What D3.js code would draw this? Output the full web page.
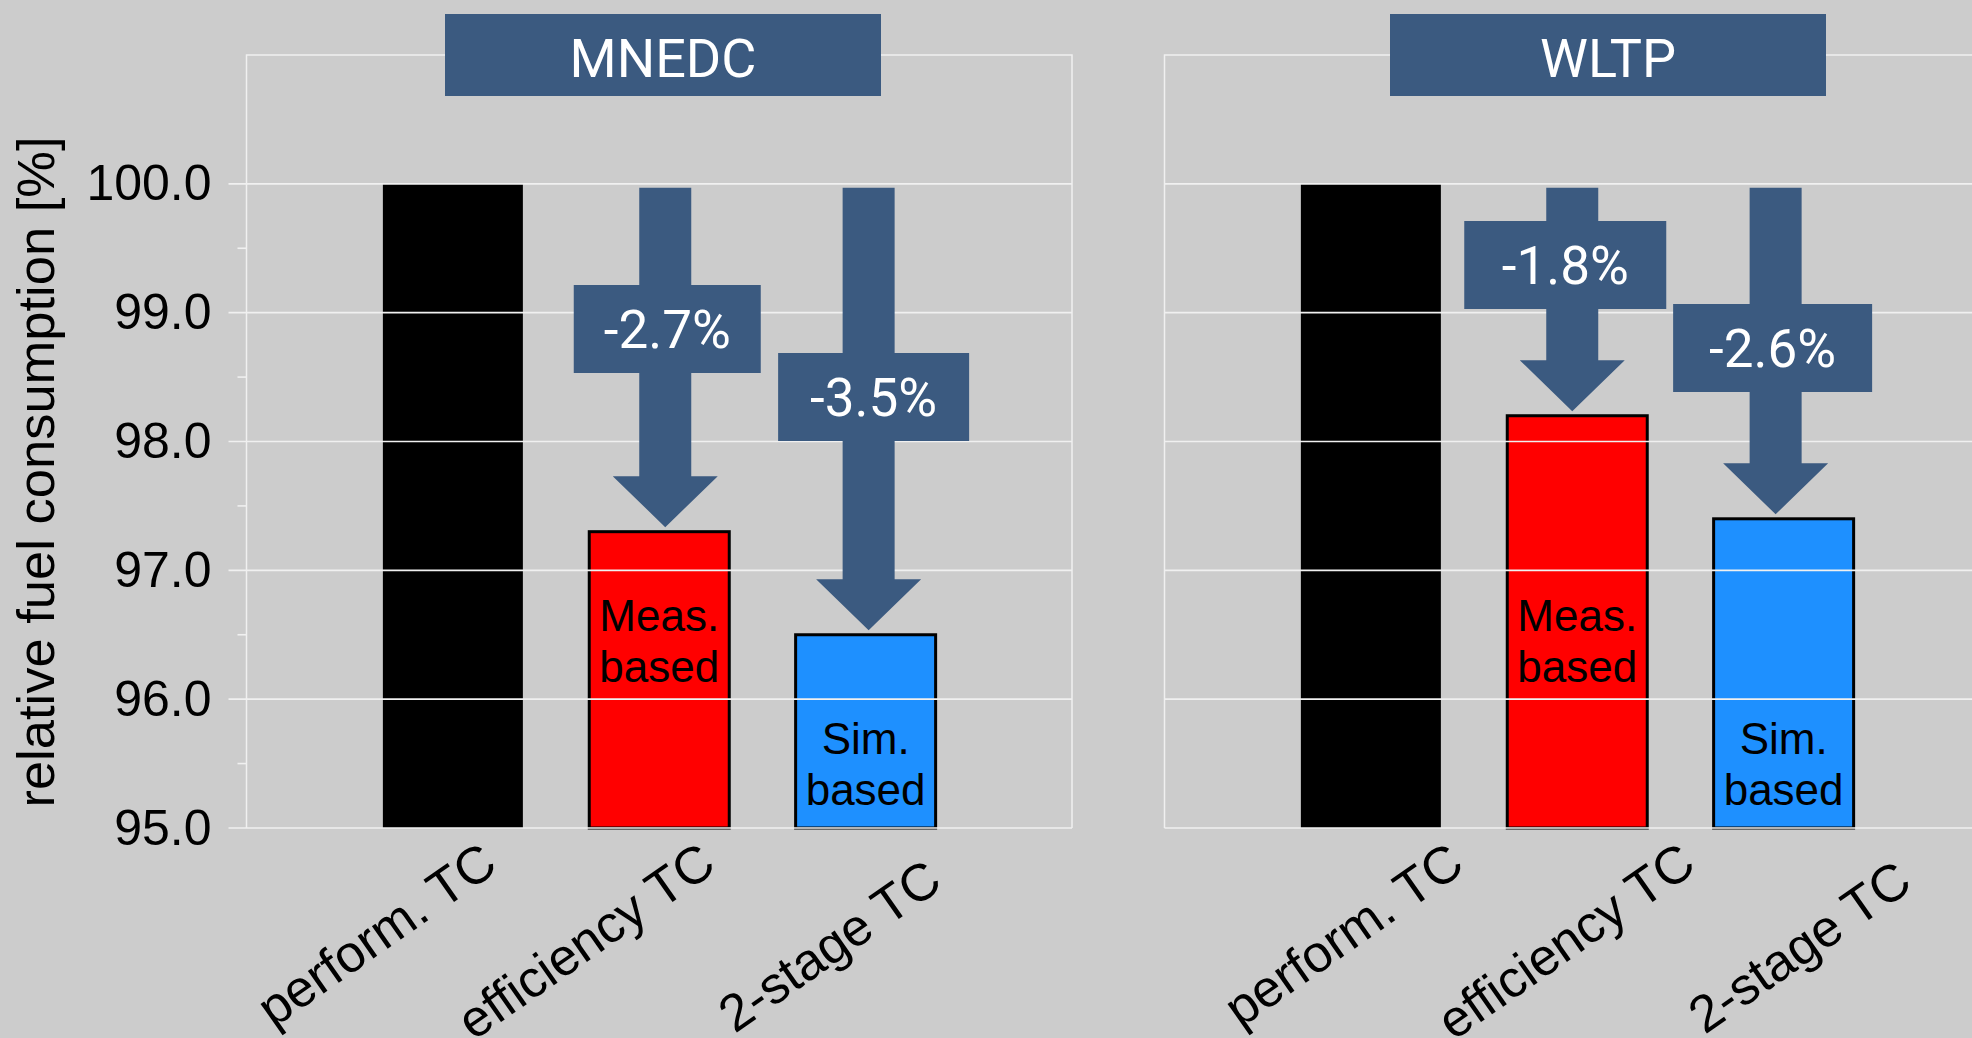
<!DOCTYPE html>
<html>
<head>
<meta charset="utf-8">
<script src="https://cdn.jsdelivr.net/npm/d3@7"></script>
<style>
  html, body { margin: 0; padding: 0; background: #cccccc; }
  svg { display: block; }
</style>
</head>
<body>
<svg id="chart" width="1972" height="1038"></svg>
<script>
// ---- data ----
const categories = ["perform. TC", "efficiency TC", "2-stage TC"];
const cycles = ["MNEDC", "WLTP"];
const mnedcValues = [100.0, 97.3, 96.5];
const wltpValues = [100.0, 98.2, 97.4];
const barNotes = [[], ["Meas.", "based"], ["Sim.", "based"]];
const yTicks = [95, 96, 97, 98, 99, 100];
const yMinorTicks = [95.5, 96.5, 97.5, 98.5, 99.5];
const yDomain = [95, 101];
const referenceValue = 100; // perform. TC is the 100 % reference

// ---- layout & style ----
const W = 1972, H = 1038;
const plotTop = 55, plotBottom = 828, plotWidth = 825.5;
const barWidth = 140;
const barColors = ["#000000", "#ff0000", "#1e90ff"];
const calloutColor = "#3b5a80";
const gridColor = "#f0f0f0";
const axisFont = "'Liberation Sans', Arial, sans-serif";
const calloutFont = "Roboto, 'Liberation Sans', sans-serif";
const labelAngle = -35;

const panels = [
  { name: cycles[0], values: mnedcValues, left: 246.5, yAxis: true,
    titleBox: [198.5, 436],
    shaftDx: [6, 3], boxDx: [2, 5], boxCy: [329, 397], boxW: [187, 191],
    labelOff: [[47, 42], [59, 42], [79, 59]] },
  { name: cycles[1], values: wltpValues, left: 1164.5, yAxis: false,
    titleBox: [225.5, 436],
    shaftDx: [-5, -8], boxDx: [-7, -3], boxCy: [265, 348], boxW: [202, 199],
    labelOff: [[96, 42], [121, 42], [131, 60]] }
];
const noteBaselines = [null, 631, 754];

const svg = d3.select("#chart");
svg.append("rect").attr("width", W).attr("height", H).attr("fill", "#cccccc");

const y = d3.scaleLinear().domain(yDomain).range([plotBottom, plotTop]);
const fmt = d3.formatLocale({ decimal: ".", thousands: ",", grouping: [3], currency: ["", ""], minus: "-" });
const pct = v => fmt.format(".1f")(v - referenceValue) + "%";

panels.forEach(p => {
  const g = svg.append("g");
  const right = p.left + plotWidth;
  const x = d3.scaleLinear().domain([-1, categories.length]).range([p.left, right]);

  // plot frame
  g.append("path")
    .attr("d", `M${p.left},${plotBottom}V${y(yDomain[1])}H${right}V${plotBottom}`)
    .attr("fill", "none").attr("stroke", gridColor).attr("stroke-width", 1.5);

  // bars
  g.selectAll("rect.bar").data(p.values).join("rect")
    .attr("class", "bar")
    .attr("x", (d, i) => x(i) - barWidth / 2)
    .attr("width", barWidth)
    .attr("y", d => y(d))
    .attr("height", d => plotBottom - y(d))
    .attr("fill", (d, i) => barColors[i])
    .attr("stroke", (d, i) => i === 0 ? "none" : "#000")
    .attr("stroke-width", 3);

  // notes inside the bars
  p.values.forEach((v, i) => {
    if (!barNotes[i].length) return;
    const t = g.append("text")
      .attr("x", x(i)).attr("y", noteBaselines[i])
      .attr("text-anchor", "middle")
      .attr("font-family", axisFont).attr("font-size", 44).attr("fill", "#000");
    barNotes[i].forEach((line, k) => {
      t.append("tspan").attr("x", x(i)).attr("dy", k === 0 ? 0 : 50.5).text(line);
    });
  });

  // gridlines drawn over the bars
  g.selectAll("line.grid").data(yTicks).join("line")
    .attr("class", "grid")
    .attr("x1", p.yAxis ? p.left - 18 : p.left).attr("x2", right)
    .attr("y1", d => y(d)).attr("y2", d => y(d))
    .attr("stroke", gridColor).attr("stroke-width", 1.6);

  if (p.yAxis) {
    g.selectAll("line.minor").data(yMinorTicks).join("line")
      .attr("class", "minor")
      .attr("x1", p.left - 9).attr("x2", p.left)
      .attr("y1", d => y(d)).attr("y2", d => y(d))
      .attr("stroke", gridColor).attr("stroke-width", 1.6);

    const axis = d3.axisLeft(y).tickValues(yTicks).tickSize(0).tickPadding(35)
      .tickFormat(d3.format(".1f"));
    const ag = g.append("g").attr("transform", `translate(${p.left},0)`).call(axis);
    ag.select(".domain").remove();
    ag.selectAll("text")
      .attr("font-family", axisFont).attr("font-size", 50).attr("fill", "#000");
  }

  // category labels
  categories.forEach((c, i) => {
    const [dx, dy] = p.labelOff[i];
    g.append("text")
      .attr("transform", `translate(${x(i) + dx},${plotBottom + dy}) rotate(${labelAngle})`)
      .attr("text-anchor", "end")
      .attr("font-family", axisFont).attr("font-size", 52).attr("fill", "#000")
      .text(c);
  });

  // reduction callouts: arrow from the reference level down to each bar
  p.values.forEach((v, i) => {
    if (i === 0) return;
    const k = i - 1;
    const cx = x(i) + p.shaftDx[k];
    const top = y(referenceValue) + 4;
    const tip = y(v) - 4.5;
    const headBase = tip - 51;
    const sw = 26, hw = 52.5;
    g.append("path")
      .attr("d", `M${cx - sw},${top}H${cx + sw}V${headBase}H${cx + hw}L${cx},${tip}L${cx - hw},${headBase}H${cx - sw}Z`)
      .attr("fill", calloutColor);
    const bx = cx + p.boxDx[k], bw = p.boxW[k], bh = 88;
    g.append("rect")
      .attr("x", bx - bw / 2).attr("y", p.boxCy[k] - bh / 2)
      .attr("width", bw).attr("height", bh)
      .attr("fill", calloutColor);
    g.append("text")
      .attr("x", bx).attr("y", p.boxCy[k]).attr("dy", "0.36em")
      .attr("text-anchor", "middle")
      .attr("font-family", calloutFont).attr("font-size", 53).attr("fill", "#fff")
      .text(pct(v));
  });

  // cycle title
  const [tx, tw] = p.titleBox;
  g.append("rect")
    .attr("x", p.left + tx).attr("y", 14).attr("width", tw).attr("height", 82)
    .attr("fill", calloutColor);
  g.append("text")
    .attr("x", p.left + tx + tw / 2).attr("y", 76.7)
    .attr("text-anchor", "middle")
    .attr("font-family", calloutFont).attr("font-size", 54).attr("fill", "#fff")
    .text(p.name);
});

// y-axis title
svg.append("text")
  .attr("transform", "translate(54,472) rotate(-90)")
  .attr("text-anchor", "middle")
  .attr("font-family", axisFont).attr("font-size", 52.5).attr("fill", "#000")
  .text("relative fuel consumption [%]");
</script>
</body>
</html>
